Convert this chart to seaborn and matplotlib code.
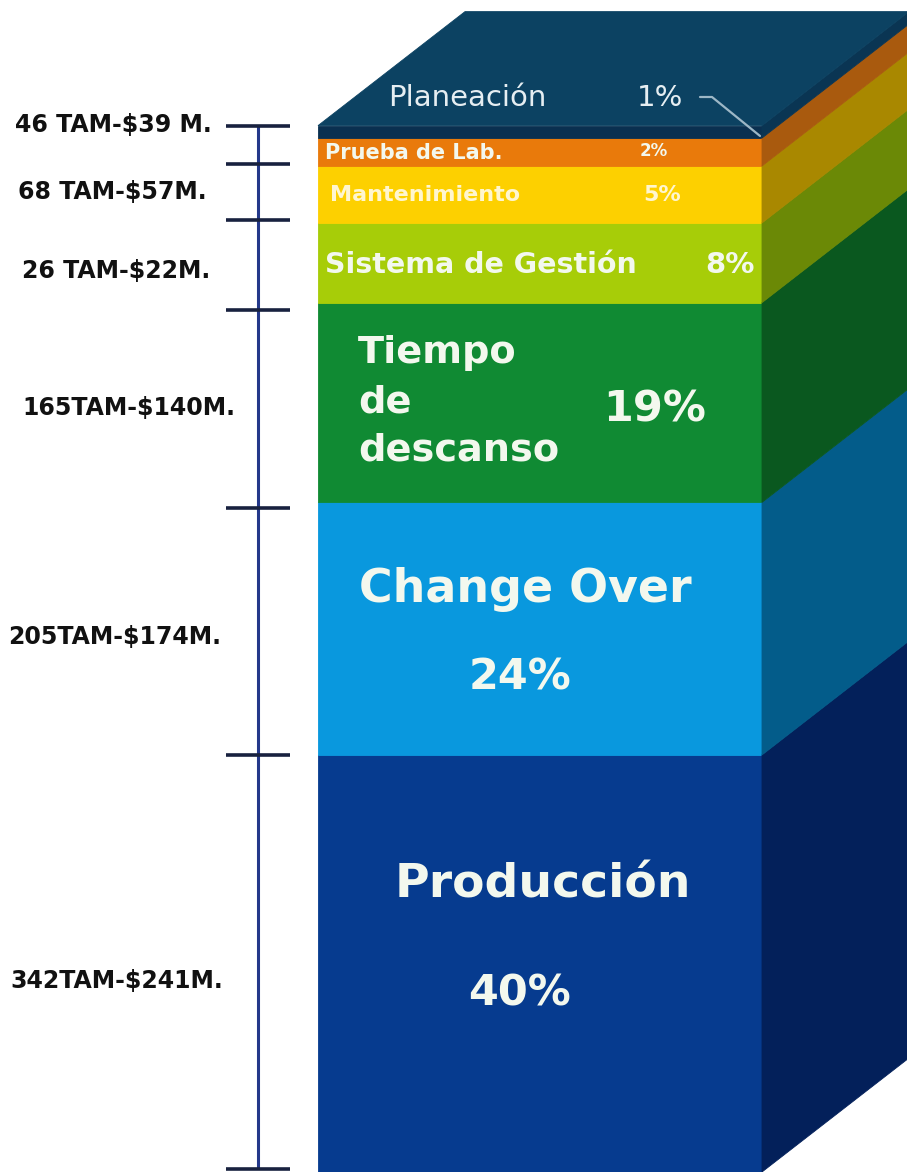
import numpy as np
import pandas as pd
import seaborn as sns
import matplotlib
matplotlib.use("Agg")
import matplotlib.pyplot as plt
from matplotlib.patches import Polygon

# ---------------- data (bottom to top) ----------------
categories = ["Producción", "Change Over", "Tiempo de descanso",
              "Sistema de Gestión", "Mantenimiento", "Prueba de Lab.", "Planeación"]
percent = [40, 24, 19, 8, 5, 2, 1]
# segment heights as drawn in the graphic (in % units)
drawn_height = [40.3, 24.4, 19.3, 7.7, 5.5, 2.7, 1.2]
tam_labels = ["342TAM-$241M.", "205TAM-$174M.", "165TAM-$140M.",
              "26 TAM-$22M.", "68 TAM-$57M.", "46 TAM-$39 M."]
tam_label_pos = [18.5, 51.7, 73.8, 87.1, 94.7, 101.2]
bracket_ticks = [0.3, 40.3, 64.2, 83.3, 92.0, 97.4, 101.1]

front_colors = ["#063b8f", "#0998de", "#108a33", "#a7cd08", "#fdd000", "#e97a0b", "#0a3050"]
side_colors = ["#03205a", "#035c8a", "#0a581f", "#6b8906", "#a98800", "#a95a0e", "#0a3553"]
top_color = "#0c4262"

df = pd.DataFrame({"cat": categories, "pct": percent, "h": drawn_height,
                   "front": front_colors, "side": side_colors})
df["bottom"] = df["h"].cumsum() - df["h"]

# ---------------- figure ----------------
sns.set_style("white")
plt.rcParams["font.family"] = ["DejaVu Sans"]
W, H = 907, 1172
PX = 10.35  # pixels per % unit
fig = plt.figure(figsize=(W / 100, H / 100), dpi=100)
ax = fig.add_axes([0, 0, 1, 1])

XL, XR = 318, 762
DX, DY = 147, 114 / PX

def py(p):
    return (H - p) / PX

for _, r in df.iterrows():
    sns.barplot(x=[(XL + XR) / 2], y=[r["h"]], native_scale=True, orient="x",
                width=XR - XL, bottom=r["bottom"], color=r["front"], saturation=1,
                linewidth=0.6, edgecolor=r["front"], errorbar=None, ax=ax)
    b, t = r["bottom"], r["bottom"] + r["h"]
    ax.add_patch(Polygon([(XR, b), (XR + DX, b + DY), (XR + DX, t + DY), (XR, t)],
                         closed=True, facecolor=r["side"], edgecolor=r["side"],
                         lw=0.6, zorder=2))

T = df["h"].sum()
ax.add_patch(Polygon([(XL, T), (XR, T), (XR + DX, T + DY), (XL + DX, T + DY)],
                     closed=True, facecolor=top_color, edgecolor=top_color, lw=0.6, zorder=2))

# leader line from "1%" to the front corner
top_front = df["bottom"].iloc[-1]
ax.plot([700, 712, XR - 2], [py(97), py(97), top_front + 0.2], color="#9db7c6",
        lw=1.6, zorder=4, solid_capstyle="round")

# ---------------- left bracket axis ----------------
ax.vlines(258, bracket_ticks[0], bracket_ticks[-1], color="#24388a", lw=2.2, zorder=3)
ax.hlines(bracket_ticks, 226, 290, color="#18213f", lw=2.6, zorder=3)

label_x = [10, 8, 22, 22, 18, 15]
for lab, y, x in zip(tam_labels, tam_label_pos, label_x):
    ax.text(x, y, lab, ha="left", va="center", fontsize=17, fontweight="bold",
            color="#111111", zorder=5)

# ---------------- texts on the box ----------------
wc = "#f3f8ee"
ax.text(467, py(98), "Planeación", ha="center", va="center", fontsize=21, color="#e6eef2", zorder=5)
ax.text(660, py(98), f"{percent[6]}%", ha="center", va="center", fontsize=21, color="#e6eef2", zorder=5)
ax.text(325, py(153), "Prueba de Lab.", ha="left", va="center", fontsize=15, fontweight="bold", color=wc, zorder=5)
ax.text(654, py(151), f"{percent[5]}%", ha="center", va="center", fontsize=12, fontweight="bold", color=wc, zorder=5)
ax.text(330, py(195), "Mantenimiento", ha="left", va="center", fontsize=16, fontweight="bold", color="#fff6cf", zorder=5)
ax.text(662, py(195), f"{percent[4]}%", ha="center", va="center", fontsize=16, fontweight="bold", color="#fff6cf", zorder=5)
ax.text(325, py(265), "Sistema de Gestión", ha="left", va="center", fontsize=20.5, fontweight="bold", color=wc, zorder=5)
ax.text(730, py(265), f"{percent[3]}%", ha="center", va="center", fontsize=21, fontweight="bold", color=wc, zorder=5)
ax.text(358, py(402), "Tiempo\nde\ndescanso", ha="left", va="center", fontsize=27.5,
        fontweight="bold", color=wc, linespacing=1.45, zorder=5)
ax.text(655, py(410), f"{percent[2]}%", ha="center", va="center", fontsize=31, fontweight="bold", color=wc, zorder=5)
ax.text(525, py(590), "Change Over", ha="center", va="center", fontsize=33, fontweight="bold", color=wc, zorder=5)
ax.text(520, py(678), f"{percent[1]}%", ha="center", va="center", fontsize=31, fontweight="bold", color=wc, zorder=5)
ax.text(543, py(885), "Producción", ha="center", va="center", fontsize=34, fontweight="bold", color=wc, zorder=5)
ax.text(520, py(993), f"{percent[0]}%", ha="center", va="center", fontsize=31, fontweight="bold", color=wc, zorder=5)

ax.set_xlim(0, W)
ax.set_ylim(0, H / PX)
ax.axis("off")
fig.savefig("out.png", dpi=100, facecolor="white")
